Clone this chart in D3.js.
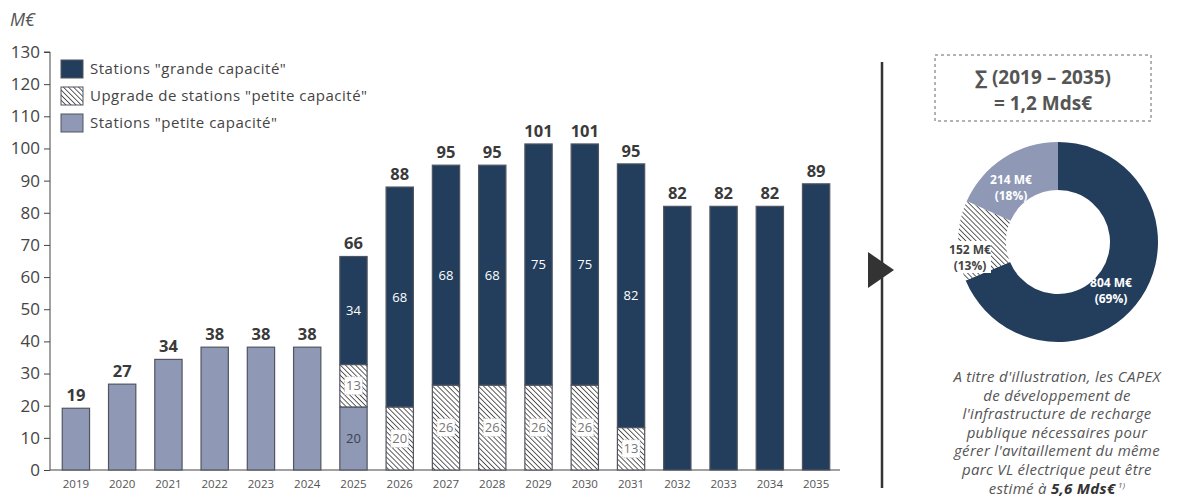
<!DOCTYPE html>
<html>
<head>
<meta charset="utf-8">
<script src="https://d3js.org/d3.v7.min.js"></script>
<style>
  body { margin: 0; background: #fff; }
  svg text { font-family: "Open Sans", "DejaVu Sans", sans-serif; }
</style>
</head>
<body>
<script>
// data
var years = ["2019","2020","2021","2022","2023","2024","2025","2026","2027","2028","2029","2030","2031","2032","2033","2034","2035"];
var petite  = [19.2, 26.7, 34.4, 38.2, 38.2, 38.2, 19.6, 0, 0, 0, 0, 0, 0, 0, 0, 0, 0];
var upgrade = [0, 0, 0, 0, 0, 0, 13.2, 19.6, 26.4, 26.4, 26.4, 26.4, 13.2, 0, 0, 0, 0];
var grande  = [0, 0, 0, 0, 0, 0, 33.6, 68.4, 68.4, 68.4, 75, 75, 82, 82, 82, 82, 89];
var labelledYears = ["2025","2026","2027","2028","2029","2030","2031"];
var yTicks = d3.range(0, 131, 10);
var legendLabels = ['Stations "grande capacité"', 'Upgrade de stations "petite capacité"', 'Stations "petite capacité"'];
var pieValues = [804, 152, 214];
var pieLabels = [["804 M€", "(69%)"], ["152 M€", "(13%)"], ["214 M€", "(18%)"]];
var noteLines = ["A titre d'illustration, les CAPEX", "de développement de", "l'infrastructure de recharge",
  "publique nécessaires pour", "gérer l'avitaillement du même", "parc VL électrique peut être"];

var navy = "#233e5c", lilac = "#8f99b5", edge = "#505560", grey = "#444";

var svg = d3.select("body").append("svg").attr("width", 1183).attr("height", 501);
var defs = svg.append("defs");
var pat = defs.append("pattern").attr("id", "hatch").attr("patternUnits", "userSpaceOnUse")
  .attr("width", 3.6).attr("height", 3.6).attr("patternTransform", "rotate(-45)");
pat.append("rect").attr("width", 3.6).attr("height", 3.6).attr("fill", "#fff");
pat.append("line").attr("x1", 0).attr("y1", 0).attr("x2", 0).attr("y2", 3.6)
  .attr("stroke", "#2a2a2a").attr("stroke-width", 1.5);

var x = d3.scaleBand().domain(years).range([53, 839]).paddingInner(0.41).paddingOuter(0.2);
var y = d3.scaleLinear().domain([0, 130]).range([470, 52]);

// y axis
var yAxis = svg.append("g").attr("transform", "translate(50,0)")
  .call(d3.axisLeft(y).tickValues(yTicks).tickSize(6).tickPadding(4));
yAxis.select(".domain").attr("stroke", grey).attr("d", "M-6,52H0V470");
yAxis.selectAll(".tick line").attr("stroke", grey);
yAxis.selectAll(".tick text").attr("font-size", 17).attr("fill", grey);

// x axis
var xAxis = svg.append("g").attr("transform", "translate(0,470)")
  .call(d3.axisBottom(x).tickSize(0).tickPadding(10));
xAxis.select(".domain").attr("stroke", grey).attr("d", "M50,0H840");
xAxis.selectAll(".tick text").attr("font-size", 11.5).attr("fill", "#555");

svg.append("text").attr("x", 10).attr("y", 26).attr("font-size", 18).attr("font-style", "italic")
  .attr("fill", "#555").text("M€");

// stacked bars
var rows = years.map(function(yr, i) { return { year: yr, p: petite[i], u: upgrade[i], g: grande[i] }; });
var stack = d3.stack().keys(["p", "u", "g"])(rows);
var fills = { p: lilac, u: "url(#hatch)", g: navy };

var layers = svg.selectAll(".layer").data(stack).enter().append("g").attr("class", "layer");
layers.selectAll("rect").data(function(d) { return d.map(function(s) { s.key = d.key; return s; }); })
  .enter().filter(function(d) { return d[1] - d[0] > 0; }).append("rect")
  .attr("x", function(d) { return x(d.data.year); })
  .attr("width", x.bandwidth())
  .attr("y", function(d) { return y(d[1]); })
  .attr("height", function(d) { return y(d[0]) - y(d[1]); })
  .attr("fill", function(d) { return fills[d.key]; })
  .attr("stroke", edge).attr("stroke-width", 1.2);

// segment labels (only for the stacked years)
stack.forEach(function(layer) {
  layer.forEach(function(s, i) {
    var v = s[1] - s[0];
    if (v <= 0 || labelledYears.indexOf(years[i]) < 0) return;
    var cx = x(years[i]) + x.bandwidth() / 2, cy = y((s[0] + s[1]) / 2);
    if (layer.key === "u") {
      svg.append("rect").attr("x", cx - 9).attr("y", cy - 9).attr("width", 18).attr("height", 18)
        .attr("fill", "#fff").attr("stroke", "#aaa").attr("stroke-dasharray", "1.5,1.5").attr("stroke-width", 0.7);
    }
    svg.append("text").attr("x", cx).attr("y", cy).attr("dy", "0.35em").attr("text-anchor", "middle")
      .attr("font-size", 13)
      .attr("fill", layer.key === "g" ? "#fff" : (layer.key === "p" ? "#3a4250" : "#777"))
      .text(Math.round(v));
  });
});

// totals
svg.selectAll(".total").data(rows).enter().append("text")
  .attr("x", function(d) { return x(d.year) + x.bandwidth() / 2; })
  .attr("y", function(d) { return y(d.p + d.u + d.g) - 7; })
  .attr("text-anchor", "middle").attr("font-size", 16.5).attr("font-weight", "bold").attr("fill", "#3a3a3a")
  .text(function(d) { return Math.round(d.p + d.u + d.g); });

// legend
var legend = svg.append("g").attr("transform", "translate(61,60)");
legendLabels.forEach(function(lbl, i) {
  legend.append("rect").attr("x", 0).attr("y", i * 27).attr("width", 22).attr("height", 18)
    .attr("fill", [navy, "url(#hatch)", lilac][i]).attr("stroke", edge).attr("stroke-width", 1);
  legend.append("text").attr("x", 29).attr("y", i * 27 + 9).attr("dy", "0.35em")
    .attr("font-size", 15).attr("letter-spacing", 0.5).attr("fill", grey).text(lbl);
});

// separator line with arrow
svg.append("line").attr("x1", 882).attr("x2", 882).attr("y1", 62).attr("y2", 488)
  .attr("stroke", "#333").attr("stroke-width", 2.5);
svg.append("path").attr("d", "M868,252L894,270L868,288Z").attr("fill", "#333");

// sum box
svg.append("rect").attr("x", 935).attr("y", 55).attr("width", 216).attr("height", 66)
  .attr("fill", "none").attr("stroke", "#666").attr("stroke-dasharray", "3,3");
svg.append("text").attr("x", 1043).attr("y", 84).attr("text-anchor", "middle").attr("font-size", 19)
  .attr("font-weight", "bold").attr("fill", "#555").text("∑ (2019 – 2035)");
svg.append("text").attr("x", 1043).attr("y", 110).attr("text-anchor", "middle").attr("font-size", 19)
  .attr("font-weight", "bold").attr("fill", "#555").text("= 1,2 Mds€");

// donut
var pie = d3.pie().sort(null)(pieValues);
var arc = d3.arc().innerRadius(52).outerRadius(100);
var donut = svg.append("g").attr("transform", "translate(1058,242)");
donut.selectAll("path").data(pie).enter().append("path")
  .attr("d", arc).attr("fill", function(d, i) { return [navy, "url(#hatch)", lilac][i]; });
var labelPos = [[53, 48], [-88, 15], [-47, -55]];
pie.forEach(function(d, i) {
  var g = donut.append("g").attr("transform", "translate(" + labelPos[i] + ")");
  if (i === 1) {
    g.append("rect").attr("x", -21).attr("y", -16).attr("width", 42).attr("height", 32).attr("fill", "#fff");
  }
  pieLabels[i].forEach(function(t, j) {
    g.append("text").attr("x", 0).attr("y", j * 16 - 3).attr("text-anchor", "middle")
      .attr("font-size", 12).attr("font-weight", "bold")
      .attr("fill", i === 1 ? "#444" : "#fff").text(t);
  });
});

// note
var note = svg.append("text").attr("text-anchor", "middle").attr("font-size", 15)
  .attr("letter-spacing", 0.3).attr("font-style", "italic").attr("fill", "#555");
noteLines.forEach(function(l, i) {
  note.append("tspan").attr("x", 1057).attr("y", 382 + i * 18.6).text(l);
});
var last = note.append("tspan").attr("x", 1057).attr("y", 382 + 6 * 18.6);
last.append("tspan").text("estimé à ");
last.append("tspan").attr("font-weight", "bold").attr("fill", "#333").text("5,6 Mds€");
last.append("tspan").attr("font-size", 8).attr("dy", -6).text(" 1)");
</script>
</body>
</html>
